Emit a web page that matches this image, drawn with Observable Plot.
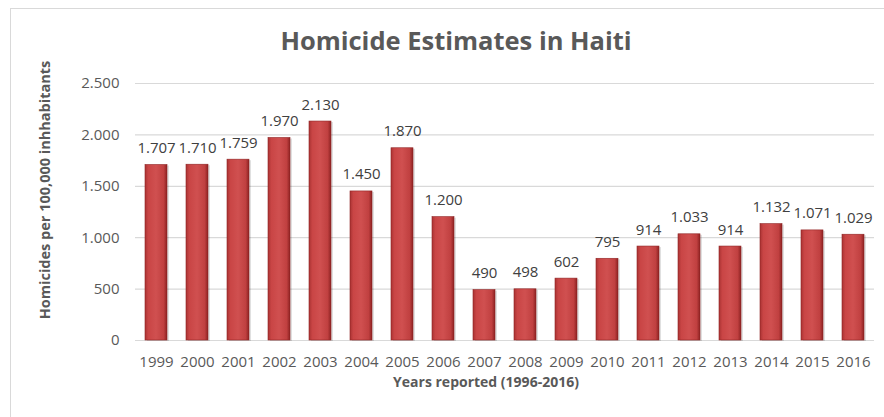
<!DOCTYPE html>
<html><head><meta charset="utf-8">
<script src="https://cdn.jsdelivr.net/npm/d3@7"></script>
<script src="https://cdn.jsdelivr.net/npm/@observablehq/plot@0.6"></script>
<style>
body{margin:0;background:#fff;}
#wrap{position:relative;width:884px;height:417px;font-family:"Open Sans",sans-serif;color:#595959;overflow:hidden;}
#frame{position:absolute;left:10px;top:8px;width:900px;height:500px;border:1.5px solid #d9d9d9;box-sizing:border-box;}
#title{position:absolute;left:0;width:912px;top:23px;text-align:center;font-weight:bold;font-size:25.5px;color:#595959;}
#xlabel{position:absolute;left:0;width:972px;top:372px;text-align:center;font-weight:bold;font-size:14px;color:#595959;}
#ylabel{position:absolute;left:44px;top:190px;transform:translate(-50%,-50%) rotate(-90deg);white-space:nowrap;font-weight:bold;font-size:14.5px;color:#595959;}
svg{position:absolute;left:0;top:0;}
</style></head><body><div id="wrap"><div id="frame"></div><div id="title">Homicide Estimates in Haiti</div><div id="xlabel">Years reported (1996-2016)</div><div id="ylabel">Homicides per 100,000 inhhabitants</div></div>
<script>
const years = ["1999","2000","2001","2002","2003","2004","2005","2006","2007","2008","2009","2010","2011","2012","2013","2014","2015","2016"];
const values = [1707,1710,1759,1970,2130,1450,1870,1200,490,498,602,795,914,1033,914,1132,1071,1029];
const yTicks = [0,500,1000,1500,2000,2500];

const data = years.map((y,i)=>({year:y, value:values[i]}));
const loc = d3.formatLocale({decimal:",", thousands:".", grouping:[3]});
const fmt = loc.format(",d");

const chart = Plot.plot({
  width: 884, height: 417,
  marginLeft: 135, marginRight: 10, marginTop: 83, marginBottom: 77,
  style: {fontFamily: "'Open Sans', sans-serif", fontSize: "15px", color: "#595959", background: "transparent"},
  x: {domain: years, paddingInner: 0.47, paddingOuter: 0.247, label: null, tickSize: 0, tickPadding: 16},
  y: {domain: [0,2500], ticks: yTicks, tickFormat: fmt, label: null, tickSize: 0, tickPadding: 16},
  marks: [
    Plot.gridY(yTicks, {stroke: "#d9d9d9", strokeOpacity: 1, strokeWidth: 1.2}),
    Plot.barY(data, {x: "year", y: "value", fill: "#000", fillOpacity: 0.12, dx: 2, dy: 1}),
    Plot.barY(data, {x: "year", y: "value", fill: "url(#barGrad)", stroke: "#8f2424", strokeWidth: 0.6}),
    Plot.tickY(data, {x: "year", y: "value", stroke: "url(#capGrad)", strokeWidth: 5, dy: 3, inset: 2}),
    Plot.text(data, {x: "year", y: "value", text: d => fmt(d.value), dy: -12, lineAnchor: "bottom", fontSize: 15, fill: "#404040"})
  ]
});

const svg = d3.select(chart);
const defs = svg.insert("defs", ":first-child");
const g = defs.append("linearGradient").attr("id","barGrad").attr("x1","0").attr("x2","1").attr("y1","0").attr("y2","0");
g.append("stop").attr("offset","0%").attr("stop-color","#a93333");
g.append("stop").attr("offset","15%").attr("stop-color","#c94545");
g.append("stop").attr("offset","50%").attr("stop-color","#d05050");
g.append("stop").attr("offset","85%").attr("stop-color","#c04040");
g.append("stop").attr("offset","100%").attr("stop-color","#8c2222");
const c = defs.append("linearGradient").attr("id","capGrad").attr("x1","0").attr("x2","1").attr("y1","0").attr("y2","0");
c.append("stop").attr("offset","0%").attr("stop-color","#d36060");
c.append("stop").attr("offset","30%").attr("stop-color","#f2a8a8");
c.append("stop").attr("offset","70%").attr("stop-color","#f2a8a8");
c.append("stop").attr("offset","100%").attr("stop-color","#c85050");
document.getElementById("wrap").appendChild(chart);
</script></body></html>
